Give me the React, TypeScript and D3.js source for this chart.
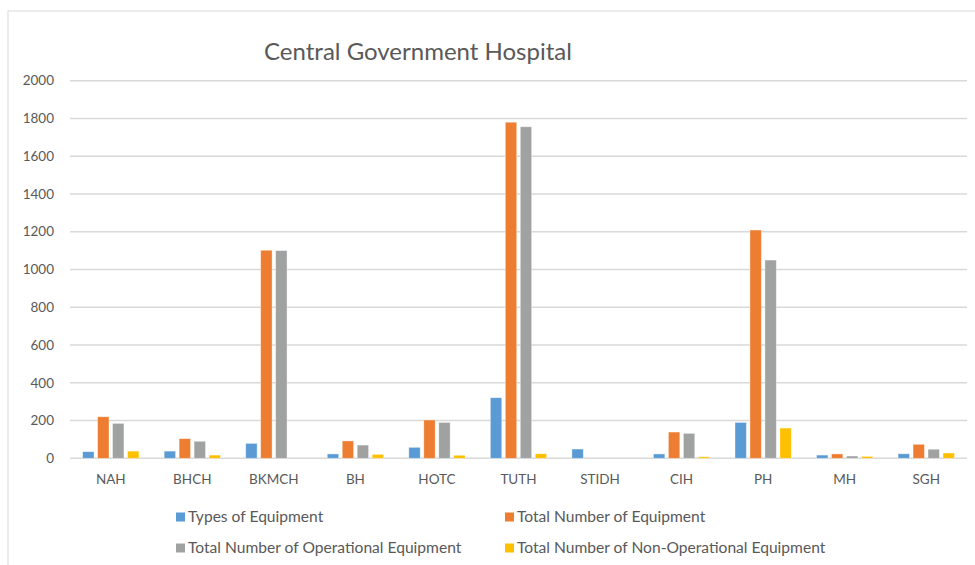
import React from "react";
import * as d3 from "d3";

const categories = ["NAH", "BHCH", "BKMCH", "BH", "HOTC", "TUTH", "STIDH", "CIH", "PH", "MH", "SGH"];
const seriesNames = [
  "Types of Equipment",
  "Total Number of Equipment",
  "Total Number of Operational Equipment",
  "Total Number of Non-Operational Equipment",
];
const typesOfEquipment = [35, 38, 79, 23, 58, 321, 49, 23, 190, 17, 24];
const totalEquipment = [220, 104, 1102, 92, 203, 1780, 0, 139, 1209, 23, 74];
const operationalEquipment = [185, 90, 1100, 70, 190, 1756, 0, 132, 1050, 12, 48];
const nonOperationalEquipment = [38, 17, 0, 21, 16, 24, 0, 8, 160, 10, 28];
const yTicks = [0, 200, 400, 600, 800, 1000, 1200, 1400, 1600, 1800, 2000];
const colors = ["#5B9BD5", "#ED7D31", "#A0A2A2", "#FFC000"];

const seriesValues = [typesOfEquipment, totalEquipment, operationalEquipment, nonOperationalEquipment];

const W = 975;
const H = 565;
const FONT = "Lato, 'Open Sans', sans-serif";

export default function App() {
  const x0 = d3.scaleBand<string>().domain(categories).range([70, 967]).paddingInner(0.31).paddingOuter(0.155);
  const x1 = d3.scaleBand<string>().domain(seriesNames).range([0, x0.bandwidth()]).paddingInner(0.24);
  const y = d3.scaleLinear().domain([0, 2000]).range([458.3, 80.7]);

  const legendPos = [
    { x: 176, y: 517 },
    { x: 505, y: 517 },
    { x: 176, y: 548 },
    { x: 505, y: 548 },
  ];

  return (
    <svg width={W} height={H} style={{ position: "absolute", left: 0, top: 0, background: "#fff" }}>
      <rect x={0} y={0} width={W} height={H} fill="#fff" />
      <rect x={8} y={11} width={W + 20} height={H + 20} fill="none" stroke="#d9d9d9" strokeWidth={1} />
      <text x={418} y={60} textAnchor="middle" fontFamily={FONT} fontSize={24} fill="#595959">
        Central Government Hospital
      </text>
      {yTicks.map((t) => (
        <g key={t}>
          <line x1={70} x2={967} y1={y(t)} y2={y(t)} stroke="#d9d9d9" strokeWidth={1.4} />
          <text x={54} y={y(t)} dy="0.35em" textAnchor="end" fontFamily={FONT} fontSize={13.5} fill="#595959">
            {t}
          </text>
        </g>
      ))}
      {categories.map((c, i) => (
        <g key={c} transform={`translate(${x0(c)},0)`}>
          {seriesNames.map((s, j) => {
            const v = seriesValues[j][i];
            if (v <= 0) return null;
            return (
              <rect
                key={s}
                x={x1(s)}
                y={y(v)}
                width={x1.bandwidth()}
                height={y(0) - y(v)}
                fill={colors[j]}
                stroke="#ffffff"
                strokeOpacity={0.45}
                strokeWidth={0.8}
              />
            );
          })}
          <text
            x={x0.bandwidth() / 2}
            y={479}
            dy="0.35em"
            textAnchor="middle"
            fontFamily={FONT}
            fontSize={13.5}
            fill="#595959"
          >
            {c}
          </text>
        </g>
      ))}
      {seriesNames.map((s, j) => (
        <g key={s} transform={`translate(${legendPos[j].x},${legendPos[j].y})`}>
          <rect x={0} y={-4.5} width={9} height={9} fill={colors[j]} />
          <text x={12} y={0} dy="0.35em" fontFamily={FONT} fontSize={15.6} fill="#595959">
            {s}
          </text>
        </g>
      ))}
    </svg>
  );
}
